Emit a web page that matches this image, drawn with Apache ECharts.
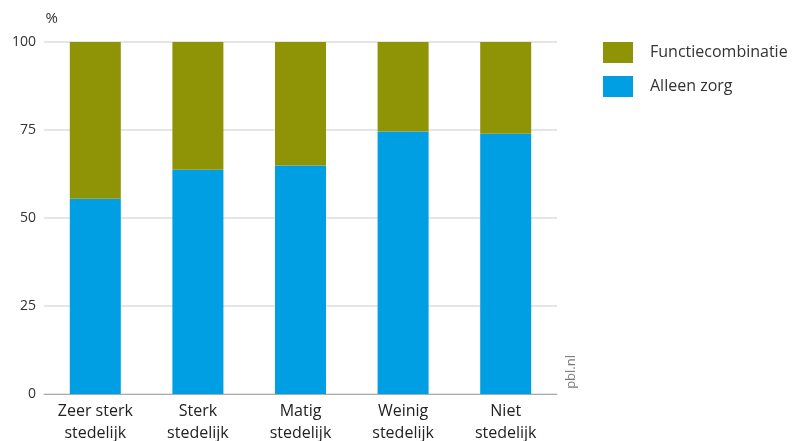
<!DOCTYPE html>
<html>
<head>
<meta charset="utf-8">
<script src="https://cdn.jsdelivr.net/npm/echarts@6/dist/echarts.min.js"></script>
<style>
  html, body { margin: 0; padding: 0; background: #fff; }
  #chart { width: 792px; height: 441px; }
</style>
</head>
<body>
<div id="chart"></div>
<script>
// Urbanisation classes and share of informal carers (%)
const categories = ['Zeer sterk\nstedelijk', 'Sterk\nstedelijk', 'Matig\nstedelijk', 'Weinig\nstedelijk', 'Niet\nstedelijk'];
const alleenZorg = [55.5, 63.7, 64.9, 74.6, 73.9];
const functiecombinatie = [44.5, 36.3, 35.1, 25.4, 26.1];
const yTicks = [0, 25, 50, 75, 100];

const FONT = '"Open Sans", "Noto Sans", sans-serif';
const OLIVE = '#8f9406';
const BLUE = '#009fe3';

const chart = echarts.init(document.getElementById('chart'), null, { renderer: 'canvas' });

chart.setOption({
  animation: false,
  textStyle: { fontFamily: FONT },
  grid: { left: 44, right: 235, top: 42, bottom: 47, containLabel: false, outerBoundsMode: 'none' },
  legend: {
    orient: 'vertical',
    left: 603,
    top: 42,
    padding: 0,
    itemWidth: 30,
    itemHeight: 21,
    itemGap: 13,
    icon: 'rect',
    textStyle: { fontFamily: FONT, fontSize: 16, color: '#333', padding: [0, 0, 0, 12] },
    data: ['Functiecombinatie', 'Alleen zorg']
  },
  xAxis: {
    type: 'category',
    data: categories,
    axisTick: { show: false },
    axisLine: { show: true, lineStyle: { color: '#aaa', width: 1 } },
    axisLabel: { fontFamily: FONT, fontSize: 16, color: '#222', lineHeight: 22, margin: 6 }
  },
  yAxis: {
    type: 'value',
    min: yTicks[0],
    max: yTicks[yTicks.length - 1],
    interval: 25,
    name: '%',
    nameLocation: 'end',
    nameGap: 16,
    nameTextStyle: { fontFamily: FONT, fontSize: 15, color: '#333', align: 'right', padding: [0, -14, 0, 0] },
    axisLine: { show: false },
    axisTick: { show: false },
    splitLine: { lineStyle: { color: '#dcdcdc', width: 1.5 } },
    axisLabel: { fontFamily: FONT, fontSize: 14, color: '#333', margin: 8 }
  },
  series: [
    {
      name: 'Alleen zorg',
      type: 'bar',
      stack: 'total',
      barWidth: 51,
      itemStyle: { color: BLUE },
      data: alleenZorg
    },
    {
      name: 'Functiecombinatie',
      type: 'bar',
      stack: 'total',
      barWidth: 51,
      itemStyle: { color: OLIVE },
      data: functiecombinatie
    }
  ],
  graphic: [
    {
      type: 'text',
      left: 565,
      top: 355,
      rotation: Math.PI / 2,
      style: { text: 'pbl.nl', fontFamily: FONT, fontSize: 13, fill: '#777' }
    }
  ]
});
</script>
</body>
</html>
